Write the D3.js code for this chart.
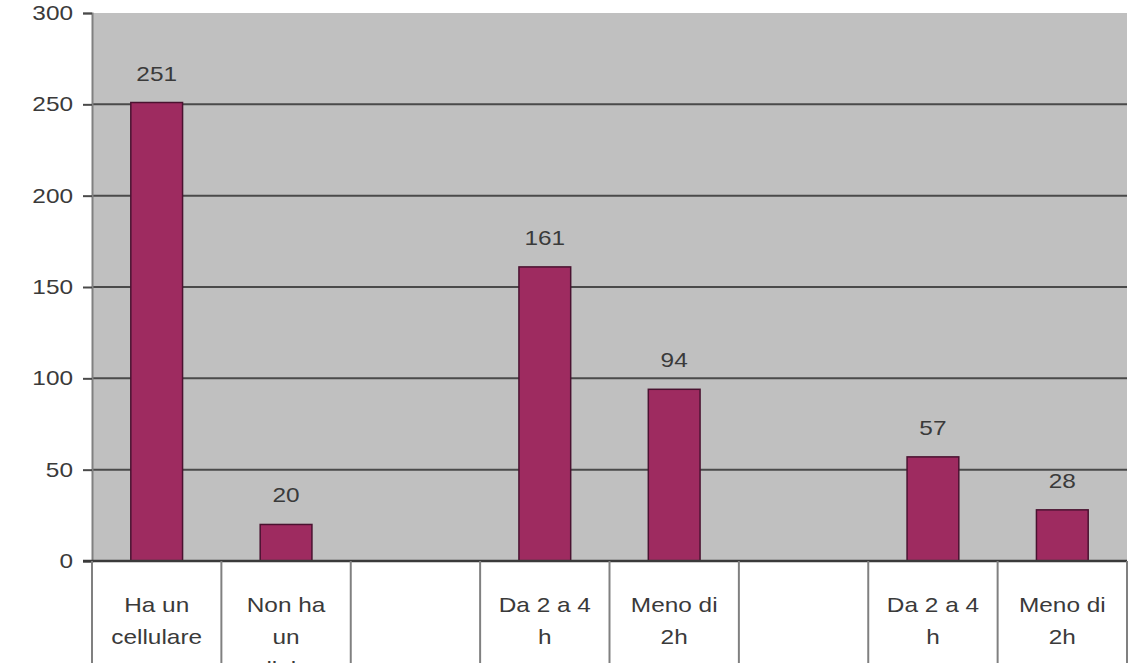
<!DOCTYPE html>
<html>
<head>
<meta charset="utf-8">
<script src="https://cdn.jsdelivr.net/npm/d3@7/dist/d3.min.js"></script>
<style>
  html, body { margin: 0; padding: 0; background: #fff; }
  svg { display: block; }
  text { font-family: "Liberation Sans", Arial, sans-serif; fill: #3a3a3a; }
</style>
</head>
<body>
<svg id="chart" width="1140" height="663"></svg>
<script>
// Category labels (line breaks as they wrap in the table cells)
const categories = [
  "Ha un\ncellulare",
  "Non ha\nun\ncellulare",
  "",
  "Da 2 a 4\nh",
  "Meno di\n2h",
  "",
  "Da 2 a 4\nh",
  "Meno di\n2h"
];
// Counts per category (empty cells have no bar)
const values = [251, 20, null, 161, 94, null, 57, 28];
// Y-axis ticks
const yTicks = [0, 50, 100, 150, 200, 250, 300];

const svg = d3.select("#chart");
const plotLeft = 92, plotRight = 1127, plotTop = 13, plotBase = 561;
const stretch = 1.22; // wide lettering used throughout the chart

const x = d3.scaleBand()
  .domain(d3.range(categories.length))
  .range([plotLeft, plotRight])
  .paddingInner(0.6)
  .paddingOuter(0.3);

const y = d3.scaleLinear().domain([0, 300]).range([plotBase, plotTop]);

// plot background
svg.append("rect")
  .attr("x", plotLeft).attr("y", plotTop)
  .attr("width", plotRight - plotLeft).attr("height", plotBase - plotTop)
  .attr("fill", "#c0c0c0");

// horizontal gridlines
svg.append("g").selectAll("line")
  .data(yTicks.filter(t => t > 0 && t < 300))
  .join("line")
  .attr("x1", plotLeft).attr("x2", plotRight)
  .attr("y1", d => y(d)).attr("y2", d => y(d))
  .attr("stroke", "#4a4a4a").attr("stroke-width", 2);

// left axis with ticks and labels
const yAxis = d3.axisLeft(y).tickValues(yTicks).tickSize(9).tickPadding(10);
const gy = svg.append("g").attr("transform", `translate(${plotLeft},0)`).call(yAxis);
gy.select(".domain").attr("stroke", "#808080").attr("stroke-width", 2);
gy.selectAll(".tick line").attr("stroke", "#4a4a4a").attr("stroke-width", 2);
gy.selectAll(".tick text")
  .attr("font-size", 20)
  .attr("fill", "#3a3a3a")
  .attr("font-family", "Liberation Sans, Arial, sans-serif")
  .attr("transform", function() {
    const xx = +d3.select(this).attr("x");
    return `translate(${xx},0) scale(${stretch},1) translate(${-xx},0)`;
  });

// bars
const barData = values.map((v, i) => ({ i, v })).filter(d => d.v != null);
svg.append("g").selectAll("rect")
  .data(barData)
  .join("rect")
  .attr("x", d => x(d.i))
  .attr("y", d => y(d.v))
  .attr("width", x.bandwidth())
  .attr("height", d => y(0) - y(d.v))
  .attr("fill", "#9e2b60")
  .attr("stroke", "#4a1230")
  .attr("stroke-width", 1.5);

// value labels
svg.append("g").selectAll("text")
  .data(barData)
  .join("text")
  .attr("text-anchor", "middle")
  .attr("font-size", 20)
  .attr("transform", d => `translate(${x(d.i) + x.bandwidth() / 2},${y(d.v) - 22}) scale(${stretch},1)`)
  .text(d => d.v);

// baseline
svg.append("line")
  .attr("x1", plotLeft - 9).attr("x2", plotRight)
  .attr("y1", y(0)).attr("y2", y(0))
  .attr("stroke", "#3a3a3a").attr("stroke-width", 2.5);

// category table below the axis
const step = x.step();
const cells = svg.append("g");
d3.range(categories.length + 1).forEach(k => {
  cells.append("line")
    .attr("x1", plotLeft + k * step).attr("x2", plotLeft + k * step)
    .attr("y1", plotBase).attr("y2", 663)
    .attr("stroke", "#808080").attr("stroke-width", 2);
});

const catText = svg.append("g").selectAll("text")
  .data(categories.map((c, i) => ({ c, i })))
  .join("text")
  .attr("text-anchor", "middle")
  .attr("font-size", 20)
  .attr("fill", "#3a3a3a")
  .attr("transform", d => `translate(${x(d.i) + x.bandwidth() / 2},612) scale(${stretch},1)`);
catText.each(function(d) {
  d3.select(this).selectAll("tspan")
    .data(d.c ? d.c.split("\n") : [])
    .join("tspan")
    .attr("x", 0)
    .attr("y", (l, j) => j * 32)
    .text(l => l);
});
</script>
</body>
</html>
